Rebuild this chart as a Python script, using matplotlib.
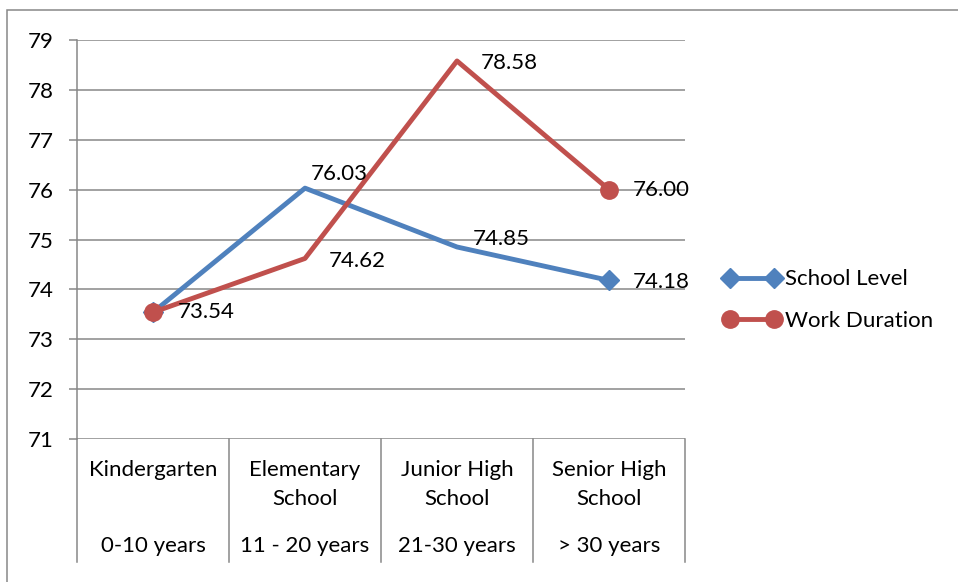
import matplotlib
matplotlib.use("Agg")
import matplotlib.pyplot as plt
from matplotlib.patches import Rectangle

plt.rcParams['font.family'] = ['Lato', 'DejaVu Sans']

# categories (school level / working years)
levels = ['Kindergarten', 'Elementary\nSchool', 'Junior High\nSchool', 'Senior High\nSchool']
years = ['0-10 years', '11 - 20 years', '21-30 years', '> 30 years']

school_level = [73.54, 76.03, 74.85, 74.18]
work_duration = [73.54, 74.62, 78.58, 76.00]

# label offsets in points, per point
school_off = [(18, 0), (4, 10), (11.5, 6), (17, -1.5)]
work_off = [(18, 0), (17, -1.5), (17, -1.5), (17, 0)]

blue = '#4F81BD'
red = '#C0504D'
grey = '#878787'
fs = 16

W, H = 958, 582
fig = plt.figure(figsize=(W / 100, H / 100), dpi=100)
ax = fig.add_axes([77 / W, 1 - 439 / H, (685 - 77) / W, 399 / H])

x = range(len(levels))
ax.plot(x, school_level, color=blue, lw=3.5, marker='D', ms=10.5,
        markevery=[0, len(x) - 1], label='School Level', zorder=3)
ax.plot(x, work_duration, color=red, lw=3.5, marker='o', ms=12.5,
        markevery=[0, len(x) - 1], label='Work Duration', zorder=4)

for i, v in enumerate(school_level):
    if i == 0:
        continue
    ax.annotate('%.2f' % v, (i, v), xytext=school_off[i], textcoords='offset points',
                ha='left', va='center', fontsize=fs, zorder=5)
for i, v in enumerate(work_duration):
    ax.annotate('%.2f' % v, (i, v), xytext=work_off[i], textcoords='offset points',
                ha='left', va='center', fontsize=fs, zorder=5)

ax.set_xlim(-0.5, len(levels) - 0.5)
ax.set_ylim(71, 79)
ax.set_yticks(range(71, 80))
ax.yaxis.grid(True, color=grey, lw=1.1)
ax.set_axisbelow(True)
ax.set_xticks([])
ax.tick_params(axis='y', length=6, width=1.1, color=grey, pad=11, labelsize=fs)
for s in ['top', 'right', 'bottom']:
    ax.spines[s].set_visible(False)
ax.spines['left'].set_color(grey)
ax.spines['left'].set_linewidth(1.1)

# two-level category axis
trans = ax.get_xaxis_transform()
for i in range(len(levels) + 1):
    ax.plot([i - 0.5, i - 0.5], [0, -123 / 399], transform=trans, color=grey,
            lw=1.1, clip_on=False)
for i in x:
    ax.annotate(levels[i], (i, 0), xycoords=trans, xytext=(0, -15), textcoords='offset points',
                ha='center', va='top', fontsize=fs, linespacing=1.55)
    ax.annotate(years[i], (i, 0), xycoords=trans, xytext=(0, -77), textcoords='offset points',
                ha='center', va='center', fontsize=fs)

ax.legend(loc='center left', bbox_to_anchor=(723 / W, 1 - 300 / H),
          bbox_transform=fig.transFigure, frameon=False, fontsize=fs,
          handlelength=2.6, handletextpad=0.2, labelspacing=0.95,
          borderpad=0, borderaxespad=0, numpoints=2)

# chart border
fig.add_artist(Rectangle((7 / W, -0.1), 1.2, 1.1 - 10 / H, transform=fig.transFigure,
                         fill=False, ec=grey, lw=1.1))

fig.savefig('out.png', dpi=100, facecolor='white')
